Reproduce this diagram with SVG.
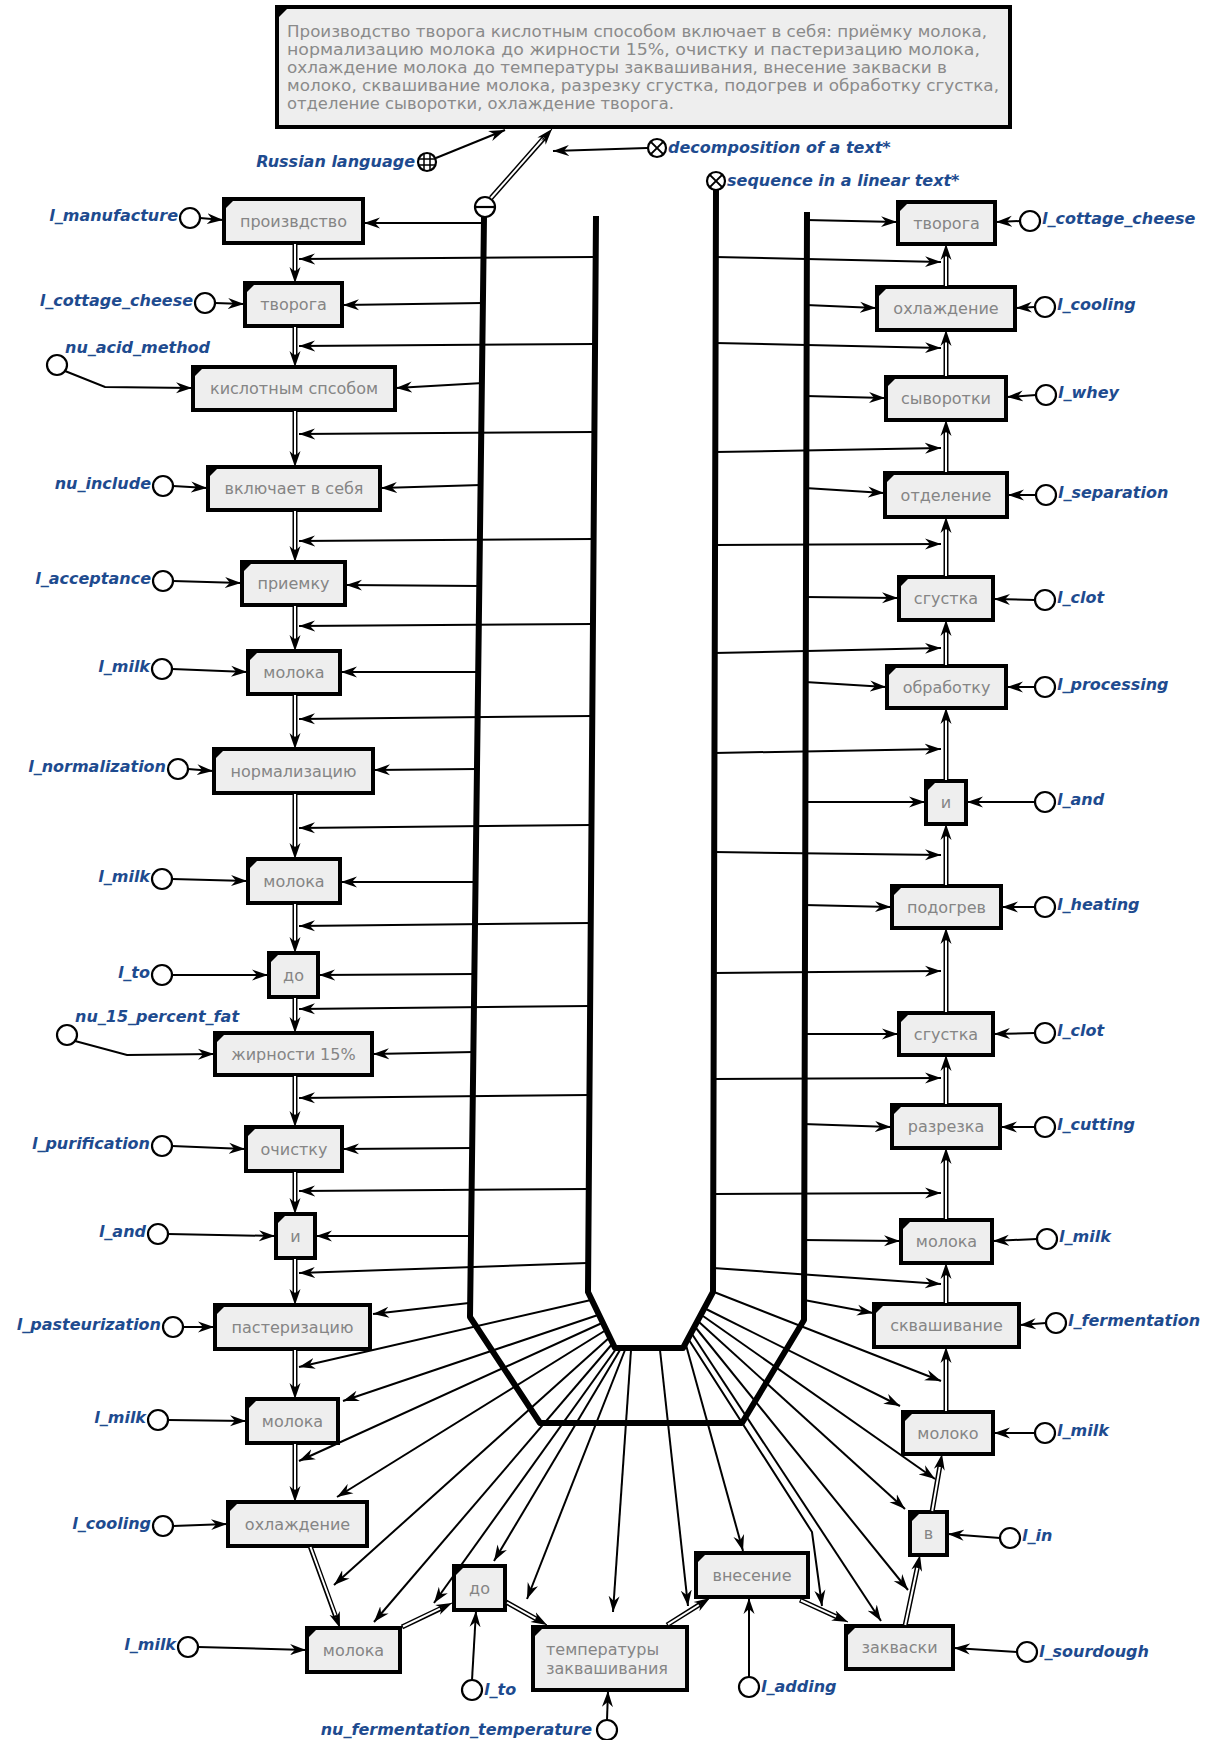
<svg xmlns="http://www.w3.org/2000/svg" width="1213" height="1740" viewBox="0 0 1213 1740">
<style>
.nb{fill:#eeeeee;stroke:#000;stroke-width:4}
.nc{fill:#000}
.nt{font-family:"DejaVu Sans",sans-serif;font-size:16px;fill:#858585;text-anchor:middle}
.tt{font-family:"DejaVu Sans",sans-serif;font-size:16.5px;fill:#8a8a8a}
.lt{font-family:"DejaVu Sans",sans-serif;font-size:16px;font-weight:bold;font-style:italic;fill:#1e4b8f}
.le{text-anchor:end}
.lc{fill:#fff;stroke:#000;stroke-width:2.2}
.a{fill:none;stroke:#000;stroke-width:2;marker-end:url(#ah)}
.bus{fill:none;stroke:#000;stroke-width:6;stroke-linejoin:round}
.dlo{fill:none;stroke:#000;stroke-width:5}
.dli{fill:none;stroke:#fff;stroke-width:2}
.dlh{fill:none;stroke:#000;stroke-width:1;marker-end:url(#ah)}
</style>
<defs>
<marker id="ah" markerWidth="17" markerHeight="12" refX="16" refY="6" orient="auto" markerUnits="userSpaceOnUse"><path d="M0,0.5 L16,6 L0,11.5 L5,6 Z" fill="#000"/></marker>
</defs>
<rect width="1213" height="1740" fill="#fff"/>

<g id="text_node">
<rect class="nb" x="277" y="7" width="733" height="120"/>
<path class="nc" d="M279,9h8l-8,8z"/>
<text class="tt" x="287" y="37" textLength="700" lengthAdjust="spacingAndGlyphs">Производство творога кислотным способом включает в себя: приёмку молока,</text>
<text class="tt" x="287" y="55" textLength="693" lengthAdjust="spacingAndGlyphs">нормализацию молока до жирности 15%, очистку и пастеризацию молока,</text>
<text class="tt" x="287" y="73" textLength="660" lengthAdjust="spacingAndGlyphs">охлаждение молока до температуры заквашивания, внесение закваски в</text>
<text class="tt" x="287" y="91" textLength="712" lengthAdjust="spacingAndGlyphs">молоко, сквашивание молока, разрезку сгустка, подогрев и обработку сгустка,</text>
<text class="tt" x="287" y="109" textLength="387" lengthAdjust="spacingAndGlyphs">отделение сыворотки, охлаждение творога.</text>
</g>

<g id="buses">
<path class="bus" d="M484,217 L470,1317 L540,1423 L742,1423 L804,1320 L807,212"/>
<path class="bus" d="M596,216 L588,1292 L615,1348 L683,1348 L713,1292 L716,190"/>
</g>

<g id="russian_language">
<circle class="lc" cx="427" cy="162" r="9"/>
<path d="M418,159h18M418,165h18M424,153v18M430,153v18" stroke="#000" stroke-width="1.5"/>
<text class="lt le" x="415" y="167">Russian language</text>
</g>
<g id="decomposition">
<circle class="lc" cx="657" cy="148" r="9"/>
<path d="M650.6,141.6l12.8,12.8M663.4,141.6l-12.8,12.8" stroke="#000" stroke-width="2"/>
<text class="lt" x="668" y="153">decomposition of a text*</text>
</g>
<g id="sequence">
<circle class="lc" cx="716" cy="181" r="9"/>
<path d="M709.6,174.6l12.8,12.8M722.4,174.6l-12.8,12.8" stroke="#000" stroke-width="2"/>
<text class="lt" x="727" y="186">sequence in a linear text*</text>
</g>
<g id="tuple">
<circle class="lc" cx="485" cy="207" r="10"/>
<path d="M475,207h20" stroke="#000" stroke-width="2.2"/>
</g>

<g id="n_proizvodstvo"><rect class="nb" x="224" y="199" width="139" height="44"/><path class="nc" d="M226,201h7l-7,7z"/><text class="nt" x="293.5" y="226.5">произвдство</text></g>
<g id="n_tvoroga_l"><rect class="nb" x="245" y="283" width="97" height="43"/><path class="nc" d="M247,285h7l-7,7z"/><text class="nt" x="293.5" y="310">творога</text></g>
<g id="n_kislotnym"><rect class="nb" x="193" y="367" width="202" height="43"/><path class="nc" d="M195,369h7l-7,7z"/><text class="nt" x="294" y="394">кислотным спсобом</text></g>
<g id="n_vklyuchaet"><rect class="nb" x="208" y="467" width="172" height="43"/><path class="nc" d="M210,469h7l-7,7z"/><text class="nt" x="294" y="494">включает в себя</text></g>
<g id="n_priemku"><rect class="nb" x="242" y="562" width="103" height="43"/><path class="nc" d="M244,564h7l-7,7z"/><text class="nt" x="293.5" y="589">приемку</text></g>
<g id="n_moloka1"><rect class="nb" x="248" y="651" width="92" height="43"/><path class="nc" d="M250,653h7l-7,7z"/><text class="nt" x="294" y="678">молока</text></g>
<g id="n_normalizaciyu"><rect class="nb" x="214" y="749" width="159" height="44"/><path class="nc" d="M216,751h7l-7,7z"/><text class="nt" x="293.5" y="776.5">нормализацию</text></g>
<g id="n_moloka2"><rect class="nb" x="248" y="859" width="92" height="44"/><path class="nc" d="M250,861h7l-7,7z"/><text class="nt" x="294" y="886.5">молока</text></g>
<g id="n_do1"><rect class="nb" x="269" y="953" width="49" height="44"/><path class="nc" d="M271,955h7l-7,7z"/><text class="nt" x="293.5" y="980.5">до</text></g>
<g id="n_zhirnosti"><rect class="nb" x="215" y="1033" width="157" height="42"/><path class="nc" d="M217,1035h7l-7,7z"/><text class="nt" x="293.5" y="1059.5">жирности 15%</text></g>
<g id="n_ochistku"><rect class="nb" x="246" y="1127" width="96" height="44"/><path class="nc" d="M248,1129h7l-7,7z"/><text class="nt" x="294" y="1154.5">очистку</text></g>
<g id="n_i1"><rect class="nb" x="276" y="1214" width="39" height="44"/><path class="nc" d="M278,1216h7l-7,7z"/><text class="nt" x="295.5" y="1241.5">и</text></g>
<g id="n_pasterizaciyu"><rect class="nb" x="215" y="1305" width="155" height="44"/><path class="nc" d="M217,1307h7l-7,7z"/><text class="nt" x="292.5" y="1332.5">пастеризацию</text></g>
<g id="n_moloka3"><rect class="nb" x="247" y="1399" width="91" height="44"/><path class="nc" d="M249,1401h7l-7,7z"/><text class="nt" x="292.5" y="1426.5">молока</text></g>
<g id="n_ohlazhdenie1"><rect class="nb" x="228" y="1502" width="139" height="44"/><path class="nc" d="M230,1504h7l-7,7z"/><text class="nt" x="297.5" y="1529.5">охлаждение</text></g>
<g id="n_moloka4"><rect class="nb" x="307" y="1628" width="93" height="44"/><path class="nc" d="M309,1630h7l-7,7z"/><text class="nt" x="353.5" y="1655.5">молока</text></g>

<g id="n_do2"><rect class="nb" x="454" y="1566" width="51" height="44"/><path class="nc" d="M456,1568h7l-7,7z"/><text class="nt" x="479.5" y="1593.5">до</text></g>
<g id="n_temperatury"><rect class="nb" x="533" y="1627" width="154" height="63"/><path class="nc" d="M535,1629h7l-7,7z"/><text class="nt" x="546" y="1655" style="text-anchor:start">температуры</text><text class="nt" x="546" y="1674" style="text-anchor:start">заквашивания</text></g>
<g id="n_vnesenie"><rect class="nb" x="696" y="1553" width="112" height="44"/><path class="nc" d="M698,1555h7l-7,7z"/><text class="nt" x="752" y="1580.5">внесение</text></g>
<g id="n_zakvaski"><rect class="nb" x="846" y="1626" width="107" height="43"/><path class="nc" d="M848,1628h7l-7,7z"/><text class="nt" x="899.5" y="1653">закваски</text></g>

<g id="n_v"><rect class="nb" x="910" y="1512" width="37" height="43"/><path class="nc" d="M912,1514h7l-7,7z"/><text class="nt" x="928.5" y="1539">в</text></g>
<g id="n_moloko"><rect class="nb" x="903" y="1412" width="90" height="42"/><path class="nc" d="M905,1414h7l-7,7z"/><text class="nt" x="948" y="1438.5">молоко</text></g>
<g id="n_skvashivanie"><rect class="nb" x="874" y="1304" width="145" height="43"/><path class="nc" d="M876,1306h7l-7,7z"/><text class="nt" x="946.5" y="1331">сквашивание</text></g>
<g id="n_moloka5"><rect class="nb" x="901" y="1220" width="91" height="43"/><path class="nc" d="M903,1222h7l-7,7z"/><text class="nt" x="946.5" y="1247">молока</text></g>
<g id="n_razrezka"><rect class="nb" x="892" y="1105" width="108" height="43"/><path class="nc" d="M894,1107h7l-7,7z"/><text class="nt" x="946" y="1132">разрезка</text></g>
<g id="n_sgustka2"><rect class="nb" x="899" y="1013" width="94" height="42"/><path class="nc" d="M901,1015h7l-7,7z"/><text class="nt" x="946" y="1039.5">сгустка</text></g>
<g id="n_podogrev"><rect class="nb" x="892" y="886" width="109" height="42"/><path class="nc" d="M894,888h7l-7,7z"/><text class="nt" x="946.5" y="912.5">подогрев</text></g>
<g id="n_i2"><rect class="nb" x="926" y="781" width="40" height="43"/><path class="nc" d="M928,783h7l-7,7z"/><text class="nt" x="946" y="808">и</text></g>
<g id="n_obrabotku"><rect class="nb" x="887" y="666" width="119" height="42"/><path class="nc" d="M889,668h7l-7,7z"/><text class="nt" x="946.5" y="692.5">обработку</text></g>
<g id="n_sgustka1"><rect class="nb" x="899" y="577" width="94" height="43"/><path class="nc" d="M901,579h7l-7,7z"/><text class="nt" x="946" y="604">сгустка</text></g>
<g id="n_otdelenie"><rect class="nb" x="885" y="473" width="122" height="44"/><path class="nc" d="M887,475h7l-7,7z"/><text class="nt" x="946" y="500.5">отделение</text></g>
<g id="n_syvorotki"><rect class="nb" x="886" y="377" width="120" height="43"/><path class="nc" d="M888,379h7l-7,7z"/><text class="nt" x="946" y="404">сыворотки</text></g>
<g id="n_ohlazhdenie2"><rect class="nb" x="877" y="287" width="138" height="43"/><path class="nc" d="M879,289h7l-7,7z"/><text class="nt" x="946" y="314">охлаждение</text></g>
<g id="n_tvoroga_r"><rect class="nb" x="898" y="202" width="97" height="42"/><path class="nc" d="M900,204h7l-7,7z"/><text class="nt" x="946.5" y="228.5">творога</text></g>

<g id="c_l_manufacture"><circle class="lc" cx="190" cy="218" r="10"/><text class="lt le" x="178" y="221">l_manufacture</text></g>
<g id="c_l_cottage_cheese1"><circle class="lc" cx="205" cy="303" r="10"/><text class="lt le" x="193" y="306">l_cottage_cheese</text></g>
<g id="c_nu_acid_method"><circle class="lc" cx="57" cy="365" r="10"/><text class="lt" x="65" y="353">nu_acid_method</text></g>
<g id="c_nu_include"><circle class="lc" cx="163" cy="486" r="10"/><text class="lt le" x="151" y="489">nu_include</text></g>
<g id="c_l_acceptance"><circle class="lc" cx="163" cy="581" r="10"/><text class="lt le" x="151" y="584">l_acceptance</text></g>
<g id="c_l_milk1"><circle class="lc" cx="162" cy="669" r="10"/><text class="lt le" x="150" y="672">l_milk</text></g>
<g id="c_l_normalization"><circle class="lc" cx="178" cy="769" r="10"/><text class="lt le" x="166" y="772">l_normalization</text></g>
<g id="c_l_milk2"><circle class="lc" cx="162" cy="879" r="10"/><text class="lt le" x="150" y="882">l_milk</text></g>
<g id="c_l_to1"><circle class="lc" cx="162" cy="975" r="10"/><text class="lt le" x="150" y="978">l_to</text></g>
<g id="c_nu_15"><circle class="lc" cx="67" cy="1035" r="10"/><text class="lt" x="75" y="1022">nu_15_percent_fat</text></g>
<g id="c_l_purification"><circle class="lc" cx="162" cy="1146" r="10"/><text class="lt le" x="150" y="1149">l_purification</text></g>
<g id="c_l_and1"><circle class="lc" cx="158" cy="1234" r="10"/><text class="lt le" x="146" y="1237">l_and</text></g>
<g id="c_l_pasteurization"><circle class="lc" cx="173" cy="1327" r="10"/><text class="lt le" x="161" y="1330">l_pasteurization</text></g>
<g id="c_l_milk3"><circle class="lc" cx="158" cy="1420" r="10"/><text class="lt le" x="146" y="1423">l_milk</text></g>
<g id="c_l_cooling1"><circle class="lc" cx="163" cy="1526" r="10"/><text class="lt le" x="151" y="1529">l_cooling</text></g>
<g id="c_l_milk4"><circle class="lc" cx="188" cy="1647" r="10"/><text class="lt le" x="176" y="1650">l_milk</text></g>
<g id="c_l_to2"><circle class="lc" cx="472" cy="1690" r="10"/><text class="lt" x="484" y="1695">l_to</text></g>
<g id="c_nu_ferm"><circle class="lc" cx="607" cy="1730" r="10"/><text class="lt le" x="592" y="1735">nu_fermentation_temperature</text></g>
<g id="c_l_adding"><circle class="lc" cx="749" cy="1687" r="10"/><text class="lt" x="761" y="1692">l_adding</text></g>
<g id="c_l_sourdough"><circle class="lc" cx="1027" cy="1652" r="10"/><text class="lt" x="1039" y="1657">l_sourdough</text></g>

<g id="c_l_in"><circle class="lc" cx="1010" cy="1538" r="10"/><text class="lt" x="1022" y="1541">l_in</text></g>
<g id="c_l_milk5"><circle class="lc" cx="1045" cy="1433" r="10"/><text class="lt" x="1057" y="1436">l_milk</text></g>
<g id="c_l_fermentation"><circle class="lc" cx="1056" cy="1323" r="10"/><text class="lt" x="1068" y="1326">l_fermentation</text></g>
<g id="c_l_milk6"><circle class="lc" cx="1047" cy="1239" r="10"/><text class="lt" x="1059" y="1242">l_milk</text></g>
<g id="c_l_cutting"><circle class="lc" cx="1045" cy="1127" r="10"/><text class="lt" x="1057" y="1130">l_cutting</text></g>
<g id="c_l_clot2"><circle class="lc" cx="1045" cy="1033" r="10"/><text class="lt" x="1057" y="1036">l_clot</text></g>
<g id="c_l_heating"><circle class="lc" cx="1045" cy="907" r="10"/><text class="lt" x="1057" y="910">l_heating</text></g>
<g id="c_l_and2"><circle class="lc" cx="1045" cy="802" r="10"/><text class="lt" x="1057" y="805">l_and</text></g>
<g id="c_l_processing"><circle class="lc" cx="1045" cy="687" r="10"/><text class="lt" x="1057" y="690">l_processing</text></g>
<g id="c_l_clot1"><circle class="lc" cx="1045" cy="600" r="10"/><text class="lt" x="1057" y="603">l_clot</text></g>
<g id="c_l_separation"><circle class="lc" cx="1046" cy="495" r="10"/><text class="lt" x="1058" y="498">l_separation</text></g>
<g id="c_l_whey"><circle class="lc" cx="1046" cy="395" r="10"/><text class="lt" x="1058" y="398">l_whey</text></g>
<g id="c_l_cooling2"><circle class="lc" cx="1045" cy="307" r="10"/><text class="lt" x="1057" y="310">l_cooling</text></g>
<g id="c_l_cottage_cheese2"><circle class="lc" cx="1030" cy="221" r="10"/><text class="lt" x="1042" y="224">l_cottage_cheese</text></g>

<g id="connectors">
<path class="a" d="M436,158 L505,130"/>
<path class="a" d="M647,148 L553,151"/>
<path class="dlo" d="M491,198 L544,138"/><path class="dli" d="M491,198 L543,139"/><path class="dlh" d="M542,140.5 L552,129"/>

<path class="dlo" d="M295,243V272M295,326V356M295,410V456M295,510V551M295,605V640M295,694V738M295,793V848M295,903V942M295,997V1022M295,1075V1116M295,1171V1203M295,1258V1294M295,1349V1388M295,1443V1491"/>
<path class="dli" d="M295,244V271M295,327V355M295,411V455M295,511V550M295,606V639M295,695V737M295,794V847M295,904V941M295,998V1021M295,1076V1115M295,1172V1202M295,1259V1293M295,1350V1387M295,1444V1490"/>
<path class="dlh" d="M295,270V283"/><path class="dlh" d="M295,354V367"/><path class="dlh" d="M295,454V467"/><path class="dlh" d="M295,549V562"/><path class="dlh" d="M295,638V651"/><path class="dlh" d="M295,736V749"/><path class="dlh" d="M295,846V859"/><path class="dlh" d="M295,940V953"/><path class="dlh" d="M295,1020V1033"/><path class="dlh" d="M295,1114V1127"/><path class="dlh" d="M295,1201V1214"/><path class="dlh" d="M295,1292V1305"/><path class="dlh" d="M295,1386V1399"/><path class="dlh" d="M295,1489V1502"/>

<path class="dlo" d="M946,287V255M946,377V341M946,473V431M946,577V528M946,666V631M946,781V719M946,886V835M946,1013V939M946,1105V1066M946,1220V1159M946,1304V1274M946,1412V1358"/>
<path class="dli" d="M946,286V256M946,376V342M946,472V432M946,576V529M946,665V632M946,780V720M946,885V836M946,1012V940M946,1104V1067M946,1219V1160M946,1303V1275M946,1411V1359"/>
<path class="dlh" d="M946,257V244"/><path class="dlh" d="M946,343V330"/><path class="dlh" d="M946,433V420"/><path class="dlh" d="M946,530V517"/><path class="dlh" d="M946,633V620"/><path class="dlh" d="M946,721V708"/><path class="dlh" d="M946,837V824"/><path class="dlh" d="M946,941V928"/><path class="dlh" d="M946,1068V1055"/><path class="dlh" d="M946,1161V1148"/><path class="dlh" d="M946,1276V1263"/><path class="dlh" d="M946,1360V1347"/>

<path class="dlo" d="M310,1546L336,1617.5M402,1627L441.9,1607.9M506,1602L537.4,1619.6M667,1625L700.6,1603.9M800,1600L838,1617.5M905,1626L917.7,1565.8M932,1512L940.1,1464.9"/>
<path class="dli" d="M310.5,1547L335.5,1615.5M403,1626.5L440,1608.7M507,1602.5L535.7,1618.6M668,1624.4L698.9,1605M801,1600.5L836.2,1616.7M905.2,1625L917.3,1567.7M932.2,1511L939.8,1466.9"/>
<path class="dlh" d="M335.5,1615.5L340,1628"/><path class="dlh" d="M440,1608.7L452,1603"/><path class="dlh" d="M535.7,1618.6L547,1625"/><path class="dlh" d="M698.9,1605L710,1598"/><path class="dlh" d="M836.2,1616.7L848,1622"/><path class="dlh" d="M917.3,1567.7L920,1555"/><path class="dlh" d="M939.8,1466.9L942,1454"/>

<path class="a" d="M200,218L223,220"/>
<path class="a" d="M215,303L244,304"/>
<path class="a" d="M65,371L105,387L192,388"/>
<path class="a" d="M173,486L207,488"/>
<path class="a" d="M173,581L241,583"/>
<path class="a" d="M172,669L247,672"/>
<path class="a" d="M188,769L213,771"/>
<path class="a" d="M172,879L247,881"/>
<path class="a" d="M172,975L268,975"/>
<path class="a" d="M75,1041L127,1055L214,1054"/>
<path class="a" d="M172,1146L245,1149"/>
<path class="a" d="M168,1234L275,1236"/>
<path class="a" d="M183,1327L214,1327"/>
<path class="a" d="M168,1420L246,1421"/>
<path class="a" d="M173,1526L227,1524"/>
<path class="a" d="M198,1647L306,1650"/>
<path class="a" d="M472,1680L476,1611"/>
<path class="a" d="M607,1720L608,1691"/>
<path class="a" d="M749,1677L749,1598"/>

<path class="a" d="M1020,221L996,222"/>
<path class="a" d="M1035,307L1016,308"/>
<path class="a" d="M1036,395L1007,397"/>
<path class="a" d="M1036,495L1008,495"/>
<path class="a" d="M1035,600L994,599"/>
<path class="a" d="M1035,687L1007,687"/>
<path class="a" d="M1035,802L967,802"/>
<path class="a" d="M1035,907L1002,907"/>
<path class="a" d="M1035,1033L994,1034"/>
<path class="a" d="M1035,1127L1001,1127"/>
<path class="a" d="M1037,1239L993,1241"/>
<path class="a" d="M1046,1323L1020,1325"/>
<path class="a" d="M1035,1433L994,1433"/>
<path class="a" d="M1000,1538L948,1534"/>
<path class="a" d="M1017,1652L954,1648"/>

<path class="a" d="M484,223L364,223"/>
<path class="a" d="M483,303L343,305"/>
<path class="a" d="M483,383L396,388"/>
<path class="a" d="M481,485L381,488"/>
<path class="a" d="M480,586L346,585"/>
<path class="a" d="M479,672L341,672"/>
<path class="a" d="M477,769L374,770"/>
<path class="a" d="M476,882L341,882"/>
<path class="a" d="M475,974L319,975"/>
<path class="a" d="M474,1052L373,1054"/>
<path class="a" d="M473,1148L343,1149"/>
<path class="a" d="M471,1236L316,1236"/>

<path class="a" d="M596,257L299,259"/>
<path class="a" d="M595,344L299,346"/>
<path class="a" d="M594,432L299,434"/>
<path class="a" d="M594,539L299,541"/>
<path class="a" d="M593,624L299,626"/>
<path class="a" d="M592,716L299,719"/>
<path class="a" d="M591,825L299,828"/>
<path class="a" d="M591,923L299,926"/>
<path class="a" d="M590,1006L299,1009"/>
<path class="a" d="M589,1095L299,1098"/>
<path class="a" d="M589,1189L299,1191"/>

<path class="a" d="M806,220L897,222"/>
<path class="a" d="M806,305L876,308"/>
<path class="a" d="M806,396L885,398"/>
<path class="a" d="M805,488L884,493"/>
<path class="a" d="M805,597L898,598"/>
<path class="a" d="M805,682L886,687"/>
<path class="a" d="M804,802L925,802"/>
<path class="a" d="M804,905L891,907"/>
<path class="a" d="M804,1034L898,1034"/>
<path class="a" d="M803,1124L891,1127"/>
<path class="a" d="M803,1240L900,1241"/>
<path class="a" d="M804,1300L873,1313"/>

<path class="a" d="M715,257L941,262"/>
<path class="a" d="M715,343L941,348"/>
<path class="a" d="M715,452L941,448"/>
<path class="a" d="M715,545L941,544"/>
<path class="a" d="M714,653L941,648"/>
<path class="a" d="M714,753L941,749"/>
<path class="a" d="M714,852L941,855"/>
<path class="a" d="M714,973L941,971"/>
<path class="a" d="M713,1079L941,1078"/>
<path class="a" d="M713,1194L941,1193"/>
<path class="a" d="M713,1268L941,1284"/>

<path class="a" d="M587,1263L299,1273"/>
<path class="a" d="M469,1303L373,1314"/>
<path class="a" d="M591,1300L299,1367"/>
<path class="a" d="M598,1315L343,1401"/>
<path class="a" d="M602,1323L299,1461"/>
<path class="a" d="M606,1330L337,1497"/>
<path class="a" d="M610,1337L334,1585"/>
<path class="a" d="M613,1343L374,1622"/>
<path class="a" d="M616,1349L434,1603"/>
<path class="a" d="M620,1350L494,1561"/>
<path class="a" d="M625,1350L527,1599"/>
<path class="a" d="M631,1350L613,1612"/>
<path class="a" d="M660,1350L688,1606"/>
<path class="a" d="M686,1345L743,1551"/>
<path class="a" d="M689,1340L812,1532L822,1606"/>
<path class="a" d="M692,1334L881,1621"/>
<path class="a" d="M696,1328L908,1590"/>
<path class="a" d="M699,1322L905,1509"/>
<path class="a" d="M703,1316L935,1479"/>
<path class="a" d="M706,1309L900,1406"/>
<path class="a" d="M714,1292L941,1381"/>
</g>
</svg>
